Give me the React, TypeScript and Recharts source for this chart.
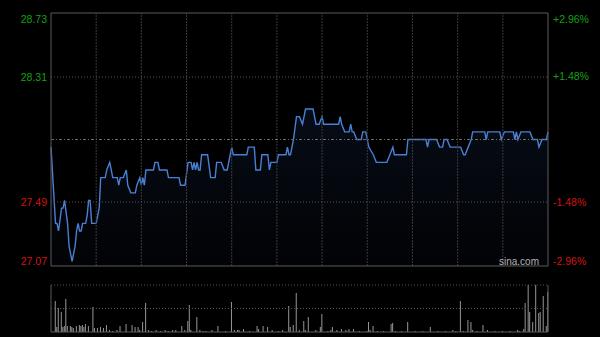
import React from 'react';
import { ComposedChart, Area, XAxis, YAxis, ReferenceLine, BarChart, Bar } from 'recharts';

const PREV_CLOSE = 27.9;
const priceMinutes = [0,3,4,5,7,8,9,11,12,14,16,17,18,19,20,21,23,24,25,26,27,30,32,33,36,37,39,40,41,44,45,46,48,50,51,53,56,57,59,60,61,62,63,68,69,71,72,77,78,85,86,89,91,93,94,95,96,97,98,99,100,104,106,109,110,113,115,117,120,121,130,131,135,136,139,140,144,145,146,150,151,156,157,158,159,161,163,165,167,169,174,176,178,180,181,191,192,193,195,198,199,200,201,203,206,207,209,211,214,216,223,225,227,228,236,237,249,250,251,256,258,260,261,263,265,272,274,275,277,279,280,288,289,290,298,299,301,307,308,309,310,312,318,320,323,324,326,329,330];
const prices = [27.85,27.35,27.35,27.30,27.45,27.45,27.50,27.35,27.20,27.10,27.20,27.30,27.35,27.30,27.30,27.35,27.35,27.40,27.50,27.50,27.35,27.35,27.45,27.65,27.65,27.70,27.75,27.70,27.65,27.65,27.60,27.65,27.65,27.70,27.60,27.55,27.55,27.60,27.65,27.60,27.65,27.60,27.70,27.70,27.75,27.75,27.70,27.70,27.65,27.65,27.60,27.60,27.75,27.75,27.70,27.75,27.70,27.75,27.70,27.70,27.80,27.80,27.65,27.65,27.75,27.75,27.70,27.70,27.85,27.80,27.80,27.85,27.85,27.70,27.70,27.80,27.80,27.70,27.75,27.75,27.80,27.80,27.85,27.80,27.80,27.90,28.05,28.05,28.00,28.10,28.10,28.00,28.00,28.05,28.00,28.00,28.05,28.00,27.95,27.95,28.00,27.95,27.95,27.90,27.90,27.95,27.95,27.85,27.80,27.75,27.75,27.80,27.85,27.80,27.80,27.90,27.90,27.85,27.90,27.90,27.85,27.85,27.90,27.90,27.85,27.85,27.80,27.80,27.85,27.90,27.95,27.95,27.90,27.95,27.95,27.90,27.95,27.95,27.90,27.95,27.90,27.95,27.95,27.90,27.90,27.85,27.90,27.90,27.95];

const volumeMinutes = [3,4,5,7,8,9,10,11,13,14,15,17,19,20,21,22,23,25,28,29,31,33,35,37,39,41,44,46,50,54,56,58,59,61,63,65,67,70,73,76,78,81,83,87,89,91,92,93,97,99,101,103,107,111,116,120,122,124,125,128,132,137,138,141,144,147,151,154,158,159,161,163,165,168,169,171,176,179,180,184,186,187,190,193,196,198,201,205,210,211,212,214,217,221,226,227,229,233,237,242,247,252,257,262,267,269,272,274,277,279,280,283,287,290,295,300,305,310,311,314,315,317,318,320,322,324,325,327,329,330];
const volumes = [310,50,240,200,50,60,330,60,60,50,40,60,70,60,70,50,80,60,250,40,40,50,40,70,20,10,20,60,80,70,50,50,20,100,290,20,10,20,10,20,10,20,20,60,20,110,270,20,150,20,10,10,20,60,10,300,20,20,20,30,10,60,30,60,50,20,10,20,260,50,70,390,20,110,20,150,20,50,180,10,20,50,20,30,20,30,30,10,10,100,20,60,10,10,80,90,10,10,100,10,10,50,10,10,20,10,310,10,120,100,20,10,70,20,10,10,10,20,10,30,290,470,200,100,470,190,200,360,60,400];

const leftTicks = [27.07, 27.49, 28.31, 28.73];
const rightTicks = [-2.96, -1.48, 1.48, 2.96];
const timeGrid = [30, 60, 90, 120, 150, 180, 210, 240, 270, 300];
const SESSION_END = 330;
const VOL_MAX = 470;

const priceData = priceMinutes.map((m, i) => ({ m, price: prices[i] }));
const volumeData = volumeMinutes.map((m, i) => ({ m, vol: volumes[i] }));

const FONT = "Arial, 'Liberation Sans', sans-serif";
const GREEN = '#14a014';
const RED = '#d21414';
const FRAME = '#5a5a5a';

const LeftTick = (props: any) => {
  const { x, y, payload } = props;
  const v = payload.value as number;
  const color = v >= PREV_CLOSE ? GREEN : RED;
  const shift = v === leftTicks[leftTicks.length - 1] ? 6 : v === leftTicks[0] ? -5 : 0;
  return (
    <text x={x} y={y + shift} dy="0.355em" textAnchor="end" fill={color} fontSize={10.5} fontFamily={FONT}>
      {v.toFixed(2)}
    </text>
  );
};

const RightTick = (props: any) => {
  const { x, y, payload } = props;
  const v = payload.value as number;
  const color = v >= 0 ? GREEN : RED;
  const shift = v === rightTicks[rightTicks.length - 1] ? 6 : v === rightTicks[0] ? -5 : 0;
  return (
    <text x={x} y={y + shift} dy="0.355em" textAnchor="start" fill={color} fontSize={10.5} fontFamily={FONT}>
      {(v > 0 ? '+' : '') + v.toFixed(2) + '%'}
    </text>
  );
};

export default function App() {
  return (
    <div style={{ position: 'absolute', left: 0, top: 0, width: 600, height: 337, background: '#000', overflow: 'hidden' }}>
      <div style={{ position: 'absolute', left: 0, top: 0 }}>
        <ComposedChart width={600} height={271} data={priceData} margin={{ top: 13, right: 0, left: 0, bottom: 5 }}>
          <defs>
            <linearGradient id="pfill" x1="0" y1="0" x2="0" y2="1">
              <stop offset="0%" stopColor="#2a4c8c" stopOpacity={0.28} />
              <stop offset="100%" stopColor="#1a2a50" stopOpacity={0.12} />
            </linearGradient>
          </defs>
          <XAxis dataKey="m" type="number" domain={[0, SESSION_END]} hide />
          <YAxis
            yAxisId="p"
            orientation="left"
            width={51}
            domain={[leftTicks[0], leftTicks[leftTicks.length - 1]]}
            ticks={leftTicks}
            interval={0}
            axisLine={false}
            tickLine={false}
            tickSize={0}
            tickMargin={4}
            tick={<LeftTick />}
            allowDataOverflow
          />
          <YAxis
            yAxisId="pct"
            orientation="right"
            width={52}
            domain={[rightTicks[0], rightTicks[rightTicks.length - 1]]}
            ticks={rightTicks}
            interval={0}
            axisLine={false}
            tickLine={false}
            tickSize={0}
            tickMargin={5}
            tick={<RightTick />}
            allowDataOverflow
          />
          {timeGrid.map((t) => (
            <ReferenceLine key={'v' + t} yAxisId="p" x={t} stroke="#3a3a3a" strokeDasharray="2 1" />
          ))}
          <ReferenceLine yAxisId="p" y={leftTicks[2]} stroke="#555" strokeDasharray="1 2" />
          <ReferenceLine yAxisId="p" y={leftTicks[1]} stroke="#555" strokeDasharray="1 2" />
          <ReferenceLine yAxisId="p" y={PREV_CLOSE} stroke="#6a6a6a" strokeDasharray="3 2 1 2" />
          <Area
            yAxisId="p"
            type="linear"
            dataKey="price"
            stroke="#4a7fd6"
            strokeWidth={1.4}
            fill="url(#pfill)"
            isAnimationActive={false}
            dot={false}
            activeDot={false}
          />
          <ReferenceLine yAxisId="p" y={leftTicks[leftTicks.length - 1]} stroke={FRAME} />
          <ReferenceLine yAxisId="p" y={leftTicks[0]} stroke={FRAME} />
          <ReferenceLine yAxisId="p" x={0} stroke={FRAME} />
          <ReferenceLine yAxisId="p" x={SESSION_END} stroke={FRAME} />
        </ComposedChart>
      </div>
      <div style={{ position: 'absolute', left: 499, top: 255, fontFamily: FONT, fontSize: 10, color: '#b4b4b4', lineHeight: '13px' }}>
        sina.com
      </div>
      <div style={{ position: 'absolute', left: 0, top: 270 }}>
        <BarChart width={600} height={67} data={volumeData} margin={{ top: 15, right: 52, left: 51, bottom: 5 }} barCategoryGap={0}>
          <XAxis dataKey="m" type="number" domain={[0, SESSION_END]} hide />
          <YAxis domain={[0, VOL_MAX]} hide allowDataOverflow />
          <ReferenceLine y={VOL_MAX} stroke="#555" strokeDasharray="1 2" />
          <ReferenceLine y={VOL_MAX / 2} stroke="#555" strokeDasharray="1 2" />
          <Bar dataKey="vol" fill="#969696" barSize={1} isAnimationActive={false} />
          <ReferenceLine y={0} stroke={FRAME} />
          <ReferenceLine x={0} stroke={FRAME} />
          <ReferenceLine x={SESSION_END} stroke={FRAME} />
        </BarChart>
      </div>
    </div>
  );
}
